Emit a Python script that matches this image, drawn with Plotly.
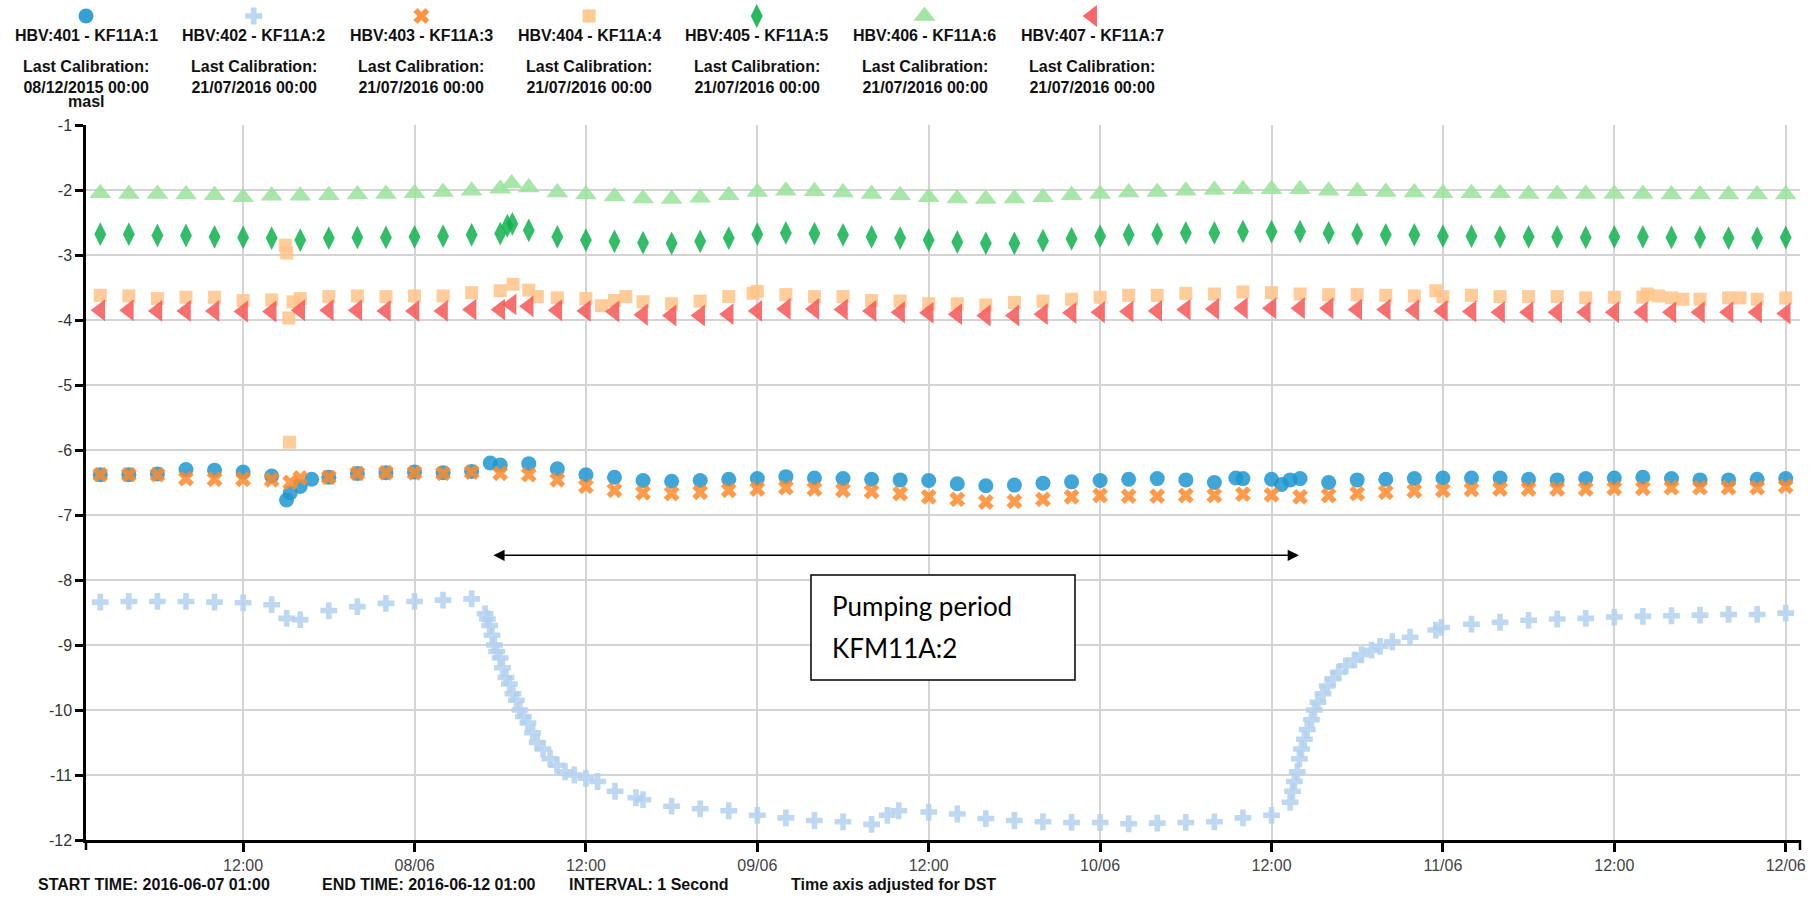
import pandas as pd
import plotly.graph_objects as go

W, H = 1820, 899
START = pd.Timestamp("2016-06-07 00:00")

# ---- data: groundwater levels (masl), hours counted from 2016-06-07 00:00 ----
sample_hours = list(range(2, 121, 2))

hbv401 = [-6.38, -6.38, -6.37, -6.30, -6.31, -6.34, -6.40, -6.56, -6.42, -6.36,
          -6.35, -6.34, -6.35, -6.33, -6.23, -6.21, -6.29, -6.38, -6.42, -6.47,
          -6.48, -6.47, -6.45, -6.44, -6.41, -6.43, -6.44, -6.45, -6.46, -6.47,
          -6.52, -6.55, -6.54, -6.51, -6.49, -6.47, -6.45, -6.44, -6.46, -6.50,
          -6.44, -6.45, -6.44, -6.50, -6.46, -6.45, -6.44, -6.43, -6.43, -6.43,
          -6.45, -6.46, -6.44, -6.43, -6.42, -6.44, -6.46, -6.46, -6.45, -6.44]
hbv401_extra_hours = [15.04, 15.3, 16.8, 29.3, 81.5, 84.7, 85.3]
hbv401_extra = [-6.77, -6.66, -6.45, -6.20, -6.43, -6.53, -6.46]

hbv402_hours = [2, 4, 6, 8, 10, 12, 14, 15.05, 16, 18, 20, 22, 24, 26, 28,
                28.94, 29.1, 29.26, 29.43, 29.59, 29.75, 29.99, 30.16, 30.4, 30.64,
                30.89, 31.13, 31.38, 31.62, 31.94, 32.27, 32.59, 33.0, 33.49, 33.97,
                34.54, 35.19, 36.0, 36.82, 38.04, 39.5,
                40, 42, 44, 46, 48, 50, 52, 54, 56, 57.1, 57.9, 60, 62, 64, 66, 68,
                70, 72, 74, 76, 78, 80, 82, 84,
                85.3, 85.47, 85.6, 85.8, 85.95, 86.1, 86.3, 86.5, 86.8, 87.0, 87.25,
                87.6, 87.9, 88.3, 88.7, 89.2, 89.8, 90.3, 91.0, 91.6, 92.45, 93.7,
                95.5, 95.9,
                98, 100, 102, 104, 106, 108, 110, 112, 114, 116, 118, 120]
hbv402 = [-8.34, -8.33, -8.33, -8.33, -8.34, -8.35, -8.38, -8.59, -8.61, -8.47,
          -8.41, -8.36, -8.33, -8.31, -8.29,
          -8.52, -8.60, -8.70, -8.85, -9.00, -9.10, -9.20, -9.35, -9.50, -9.60,
          -9.75, -9.85, -10.00, -10.10, -10.20, -10.35, -10.50, -10.60, -10.75,
          -10.85, -10.95, -11.00, -11.05, -11.10, -11.25, -11.35,
          -11.38, -11.48, -11.52, -11.55, -11.62, -11.66, -11.70, -11.72, -11.76,
          -11.62, -11.55, -11.57, -11.60, -11.67, -11.70, -11.72, -11.73, -11.73,
          -11.75, -11.74, -11.73, -11.72, -11.66, -11.62,
          -11.42, -11.25, -11.10, -10.95, -10.75, -10.60, -10.45, -10.30, -10.15,
          -10.00, -9.88, -9.75, -9.63, -9.52, -9.42, -9.32, -9.23, -9.15, -9.08,
          -9.02, -8.95, -8.88, -8.77, -8.73,
          -8.68, -8.65, -8.62, -8.60, -8.59, -8.57, -8.56, -8.55, -8.54, -8.53,
          -8.53, -8.51]

hbv403 = [-6.38, -6.38, -6.38, -6.44, -6.45, -6.45, -6.46, -6.43, -6.42, -6.36,
          -6.35, -6.35, -6.36, -6.34, -6.36, -6.38, -6.46, -6.56, -6.62, -6.66,
          -6.67, -6.65, -6.62, -6.60, -6.58, -6.60, -6.62, -6.64, -6.67, -6.72,
          -6.76, -6.80, -6.79, -6.76, -6.72, -6.70, -6.71, -6.71, -6.70, -6.70,
          -6.68, -6.69, -6.72, -6.70, -6.67, -6.65, -6.63, -6.62, -6.61, -6.60,
          -6.60, -6.60, -6.60, -6.59, -6.59, -6.58, -6.58, -6.58, -6.58, -6.56]
hbv403_extra_hours = [15.3]
hbv403_extra = [-6.50]

hbv404 = [-3.62, -3.63, -3.67, -3.65, -3.65, -3.70, -3.69, -3.67, -3.64, -3.63,
          -3.64, -3.63, -3.63, -3.58, -3.55, -3.54, -3.66, -3.67, -3.70, -3.72,
          -3.75, -3.71, -3.64, -3.56, -3.61, -3.64, -3.64, -3.70, -3.71, -3.75,
          -3.75, -3.77, -3.73, -3.71, -3.68, -3.65, -3.62, -3.62, -3.59, -3.60,
          -3.57, -3.58, -3.60, -3.61, -3.61, -3.62, -3.63, -3.64, -3.62, -3.64,
          -3.64, -3.64, -3.66, -3.65, -3.65, -3.66, -3.68, -3.66, -3.68, -3.66]
hbv404_extra_hours = [14.95, 15.05, 15.2, 15.25, 15.5, 30.9, 32.6, 37.1, 38.8,
                      47.7, 95.5, 110.3, 111.1, 112.8, 116.8]
hbv404_extra = [-2.85, -2.97, -3.97, -5.88, -3.72, -3.45, -3.64, -3.78, -3.64,
                -3.59, -3.55, -3.60, -3.63, -3.68, -3.66]

hbv405 = [-2.68, -2.68, -2.70, -2.70, -2.72, -2.73, -2.74, -2.77, -2.74, -2.73,
          -2.73, -2.72, -2.71, -2.69, -2.67, -2.62, -2.72, -2.77, -2.79, -2.81,
          -2.82, -2.79, -2.74, -2.68, -2.66, -2.67, -2.69, -2.72, -2.74, -2.77,
          -2.80, -2.82, -2.82, -2.78, -2.75, -2.71, -2.69, -2.68, -2.66, -2.66,
          -2.64, -2.64, -2.64, -2.66, -2.68, -2.69, -2.69, -2.71, -2.71, -2.72,
          -2.72, -2.72, -2.73, -2.72, -2.72, -2.73, -2.73, -2.74, -2.74, -2.73]
hbv405_extra_hours = [30.5, 30.85]
hbv405_extra = [-2.55, -2.52]

hbv406 = [-2.05, -2.06, -2.06, -2.07, -2.08, -2.11, -2.09, -2.09, -2.08, -2.07,
          -2.06, -2.05, -2.03, -2.01, -1.98, -1.96, -2.04, -2.07, -2.10, -2.13,
          -2.14, -2.12, -2.08, -2.03, -2.01, -2.02, -2.04, -2.06, -2.08, -2.11,
          -2.13, -2.14, -2.13, -2.11, -2.08, -2.06, -2.04, -2.03, -2.01, -2.00,
          -1.99, -1.99, -1.99, -2.01, -2.02, -2.03, -2.04, -2.05, -2.05, -2.05,
          -2.06, -2.06, -2.06, -2.06, -2.06, -2.07, -2.07, -2.07, -2.07, -2.07]
hbv406_extra_hours = [30.8]
hbv406_extra = [-1.90]

hbv407 = [-3.85, -3.85, -3.86, -3.86, -3.86, -3.87, -3.87, -3.85, -3.85, -3.85,
          -3.86, -3.86, -3.86, -3.84, -3.84, -3.79, -3.85, -3.86, -3.87, -3.92,
          -3.93, -3.93, -3.91, -3.86, -3.83, -3.83, -3.84, -3.86, -3.88, -3.89,
          -3.91, -3.93, -3.93, -3.91, -3.89, -3.88, -3.87, -3.86, -3.84, -3.83,
          -3.82, -3.82, -3.82, -3.82, -3.84, -3.84, -3.85, -3.86, -3.87, -3.88,
          -3.88, -3.88, -3.88, -3.88, -3.88, -3.88, -3.88, -3.88, -3.88, -3.90]
hbv407_extra_hours = [30.8]
hbv407_extra = [-3.76]

series_names = ["HBV:401 - KF11A:1", "HBV:402 - KF11A:2", "HBV:403 - KF11A:3",
                "HBV:404 - KF11A:4", "HBV:405 - KF11A:5", "HBV:406 - KF11A:6",
                "HBV:407 - KF11A:7"]
calibration_dates = ["08/12/2015 00:00", "21/07/2016 00:00", "21/07/2016 00:00",
                     "21/07/2016 00:00", "21/07/2016 00:00", "21/07/2016 00:00",
                     "21/07/2016 00:00"]

tick_hours = [12, 24, 36, 48, 60, 72, 84, 96, 108, 120]
tick_labels = ["12:00", "08/06", "12:00", "09/06", "12:00", "10/06", "12:00",
               "11/06", "12:00", "12/06"]

range_start = "2016-06-07 01:00"
range_end = "2016-06-12 01:00"
pumping_start = "2016-06-08 05:25"
pumping_end = "2016-06-10 13:55"

# ---- styling ----
colors = ["#1f96d0", "#b3d1ef", "#ff8a2b", "#ffc388", "#0fb14f", "#99e29a", "#f65656"]
symbols = ["circle", "cross", "x", "square", "diamond-tall", "triangle-up", "triangle-left"]
sizes = [15, 14, 14, 13, 17, 19, 19]
FONT = "Liberation Sans, Arial, sans-serif"


def to_time(hours):
    return [START + pd.Timedelta(hours=h) for h in hours]


def merged(hours_a, vals_a, hours_b, vals_b):
    pairs = sorted(zip(list(hours_a) + list(hours_b), list(vals_a) + list(vals_b)))
    return [p[0] for p in pairs], [p[1] for p in pairs]


series_data = [
    merged(sample_hours, hbv401, hbv401_extra_hours, hbv401_extra),
    (hbv402_hours, hbv402),
    merged(sample_hours, hbv403, hbv403_extra_hours, hbv403_extra),
    merged(sample_hours, hbv404, hbv404_extra_hours, hbv404_extra),
    merged(sample_hours, hbv405, hbv405_extra_hours, hbv405_extra),
    merged(sample_hours, hbv406, hbv406_extra_hours, hbv406_extra),
    merged(sample_hours, hbv407, hbv407_extra_hours, hbv407_extra),
]

fig = go.Figure()
for k, (hrs, vals) in enumerate(series_data):
    fig.add_trace(go.Scatter(
        x=to_time(hrs), y=vals, mode="markers", name=series_names[k],
        marker=dict(symbol=symbols[k], size=sizes[k], color=colors[k],
                    opacity=0.85, line=dict(width=0)),
        xaxis="x", yaxis="y", showlegend=False,
    ))

# legend block above the plot: symbol on top, name and calibration text below
PLOT_L, PLOT_R, PLOT_T, PLOT_B = 86, 1800, 125, 840
leg_x0, leg_step = 86, 167.7
leg_cx = [leg_x0 + i * leg_step for i in range(len(series_names))]
for k in range(len(series_names)):
    fig.add_trace(go.Scatter(
        x=[leg_cx[k]], y=[16], mode="markers",
        marker=dict(symbol=symbols[k], size=sizes[k], color=colors[k], opacity=0.9),
        xaxis="x2", yaxis="y2", showlegend=False, hoverinfo="skip",
    ))


def px(x):
    return x / W


def py(y):
    return 1 - y / H


annotations = []
for k in range(len(series_names)):
    annotations.append(dict(
        x=px(leg_cx[k]), y=py(36), xref="paper", yref="paper",
        text=f"<b>{series_names[k]}</b>", showarrow=False,
        xanchor="center", yanchor="middle",
        font=dict(family=FONT, size=16, color="#111")))
    annotations.append(dict(
        x=px(leg_cx[k]), y=py(77), xref="paper", yref="paper",
        text=f"<b>Last Calibration:<br>{calibration_dates[k]}</b>", showarrow=False,
        xanchor="center", yanchor="middle", align="center",
        font=dict(family=FONT, size=16, color="#111")))
annotations.append(dict(
    x=px(86), y=py(102), xref="paper", yref="paper", text="<b>masl</b>",
    showarrow=False, xanchor="center", yanchor="middle",
    font=dict(family=FONT, size=16, color="#111")))

footer = [("START TIME: 2016-06-07 01:00", 36), ("END TIME: 2016-06-12 01:00", 320),
          ("INTERVAL: 1 Second", 567), ("Time axis adjusted for DST", 789)]
for txt, x0 in footer:
    annotations.append(dict(
        x=px(x0), y=py(884), xref="paper", yref="paper", text=f"<b>{txt}</b>",
        showarrow=False, xanchor="left", yanchor="middle",
        font=dict(family=FONT, size=16, color="#111")))

# pumping period arrow and note
annotations.append(dict(
    x=pumping_end, y=-7.62, ax=pumping_start, ay=-7.62, xref="x", yref="y",
    axref="x", ayref="y", text="", showarrow=True, arrowhead=2,
    arrowside="end+start", arrowsize=1.6, arrowwidth=1.4, arrowcolor="black"))
for txt, yy in [("Pumping period", 606), ("KFM11A:2", 648)]:
    annotations.append(dict(
        x=px(830), y=py(yy), xref="paper", yref="paper", text=txt,
        showarrow=False, xanchor="left", yanchor="middle",
        font=dict(family="Lato, Carlito, sans-serif", size=26, color="black")))

shapes = [
    dict(type="rect", xref="paper", yref="paper", x0=px(811), x1=px(1075),
         y0=py(575), y1=py(680), line=dict(color="black", width=1.5),
         fillcolor="white", layer="above"),
    dict(type="line", xref="x domain", yref="y domain", x0=0, x1=0, y0=0,
         y1=-10 / (PLOT_B - PLOT_T), line=dict(color="black", width=2.5)),
    dict(type="line", xref="x domain", yref="y domain", x0=1, x1=1, y0=0,
         y1=-10 / (PLOT_B - PLOT_T), line=dict(color="black", width=2.5)),
]

fig.update_layout(
    template="none",
    width=W, height=H,
    margin=dict(l=0, r=0, t=0, b=0),
    paper_bgcolor="white", plot_bgcolor="rgba(0,0,0,0)",
    showlegend=False,
    xaxis=dict(
        type="date", domain=[px(PLOT_L), px(PLOT_R)],
        range=[range_start, range_end],
        tickmode="array", tickvals=to_time(tick_hours), ticktext=tick_labels,
        showgrid=True, gridcolor="#d4d4d4", gridwidth=1.5,
        showline=True, linecolor="black", linewidth=2.5,
        ticks="outside", ticklen=9, tickwidth=2.5, tickcolor="black",
        tickfont=dict(family=FONT, size=16, color="#444"),
        zeroline=False, automargin=False, anchor="y",
    ),
    yaxis=dict(
        domain=[1 - PLOT_B / H, 1 - PLOT_T / H], range=[-12, -1],
        tickmode="array", tickvals=list(range(-12, 0)),
        ticktext=[str(v) for v in range(-12, 0)],
        showgrid=True, gridcolor="#d4d4d4", gridwidth=1.5,
        showline=True, linecolor="black", linewidth=2.5,
        ticks="outside", ticklen=8, tickwidth=2.5, tickcolor="black",
        tickfont=dict(family=FONT, size=16, color="#333"),
        zeroline=False, automargin=False, anchor="x",
    ),
    xaxis2=dict(domain=[0, 1], range=[0, W], visible=False, anchor="y2",
                fixedrange=True),
    yaxis2=dict(domain=[0, 1], range=[H, 0], visible=False, anchor="x2",
                fixedrange=True),
    annotations=annotations,
    shapes=shapes,
)

fig.write_html("out.html")
